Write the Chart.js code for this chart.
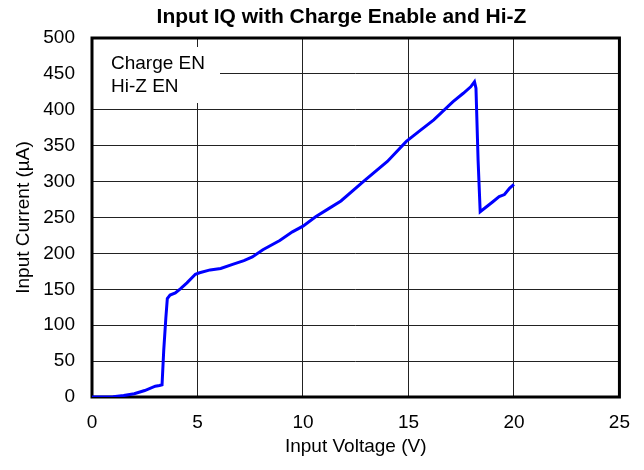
<!DOCTYPE html>
<html>
<head>
<meta charset="utf-8">
<script src="https://cdn.jsdelivr.net/npm/chart.js@4.4.0/dist/chart.umd.min.js"></script>
<style>
  html, body { margin: 0; padding: 0; background: #fff; }
  #wrap { width: 644px; height: 470px; }
</style>
</head>
<body>
<div id="wrap"><canvas id="iq-chart"></canvas></div>
<script>
// values
const voltage = [0, 0.5, 1.0, 1.5, 2.0, 2.5, 3.0, 3.2, 3.32, 3.4, 3.5, 3.57, 3.7, 3.95, 4.2, 4.5, 4.9, 5.1, 5.6, 6.1,
  6.7, 7.2, 7.6, 8.1, 8.9, 9.5, 10.0, 10.6, 11.2, 11.8, 12.9, 14.0, 14.9, 15.5, 16.2, 17.1, 17.6, 17.95, 18.13,
  18.2, 18.3, 18.4, 18.7, 19.0, 19.3, 19.55, 19.8, 20.0];
const current = [0, 0, 0.5, 2, 4.5, 9, 15, 16, 17, 65, 110, 137, 142, 145, 151, 159, 171, 173, 177, 179,
  185, 190, 195, 205, 218, 230, 238, 251, 262, 273, 301, 328, 356, 370, 386, 411, 423, 432, 439,
  430, 330, 258, 265, 272, 279, 282, 291, 296];
const xTicks = [0, 5, 10, 15, 20, 25];
const yTicks = [0, 50, 100, 150, 200, 250, 300, 350, 400, 450, 500];
const legendLines = ['Charge EN', 'Hi-Z EN'];

const FONT = "'Liberation Sans', Arial, sans-serif";

// title sits a bit right of the canvas centre in the original
const titleShift = {
  id: 'titleShift',
  afterLayout(chart) {
    if (chart.titleBlock) {
      chart.titleBlock.left = 63;
    }
  }
};

const legendBox = {
  id: 'legendBox',
  beforeDatasetsDraw(chart) {
    const ctx = chart.ctx;
    const area = chart.chartArea;
    ctx.save();
    ctx.fillStyle = '#fff';
    ctx.fillRect(area.left, area.top + 9, 128, 56);
    ctx.fillStyle = '#000';
    ctx.font = '19px ' + FONT;
    ctx.textBaseline = 'alphabetic';
    legendLines.forEach(function (txt, i) {
      ctx.fillText(txt, area.left + 19, area.top + 31 + i * 23.4);
    });
    ctx.restore();
  }
};

const frame = {
  id: 'frame',
  beforeDatasetsDraw(chart) {
    const ctx = chart.ctx;
    const a = chart.chartArea;
    ctx.save();
    ctx.strokeStyle = '#000';
    ctx.lineWidth = 3;
    ctx.strokeRect(a.left, a.top, a.right - a.left, a.bottom - a.top);
    ctx.restore();
  }
};

Chart.defaults.font.family = FONT;
Chart.defaults.color = '#000';

new Chart(document.getElementById('iq-chart'), {
  type: 'line',
  data: {
    datasets: [{
      data: voltage.map(function (v, i) { return {x: v, y: current[i]}; }),
      borderColor: '#0000ff',
      borderWidth: 3,
      pointRadius: 0,
      tension: 0,
      fill: false
    }]
  },
  options: {
    responsive: true,
    maintainAspectRatio: false,
    animation: false,
    layout: { padding: { left: 0, right: 24, top: 0, bottom: 0 } },
    plugins: {
      legend: { display: false },
      tooltip: { enabled: false },
      title: {
        display: true,
        text: 'Input IQ with Charge Enable and Hi-Z',
        font: { size: 21, weight: 'bold' },
        color: '#000',
        padding: { top: 5, bottom: 7.8 }
      }
    },
    scales: {
      x: {
        type: 'linear',
        min: 0,
        max: 25,
        afterBuildTicks(scale) { scale.ticks = xTicks.map(function (v) { return {value: v}; }); },
        afterFit(scale) { scale.height = 73; },
        grid: { color: '#222', lineWidth: 1, drawTicks: false },
        border: { display: false },
        ticks: { font: { size: 19 }, padding: 14, maxRotation: 0 },
        title: { display: true, text: 'Input Voltage (V)', font: { size: 19 }, padding: { top: 0, bottom: 12 } }
      },
      y: {
        min: 0,
        max: 500,
        afterBuildTicks(scale) { scale.ticks = yTicks.map(function (v) { return {value: v}; }); },
        afterFit(scale) { scale.width = 92; },
        grid: { color: '#222', lineWidth: 1, drawTicks: false },
        border: { display: false },
        ticks: { font: { size: 19 }, padding: 17 },
        title: { display: true, text: 'Input Current (µA)', font: { size: 19 }, padding: { top: 12, bottom: 0 } }
      }
    }
  },
  plugins: [titleShift, legendBox, frame]
});
</script>
</body>
</html>
